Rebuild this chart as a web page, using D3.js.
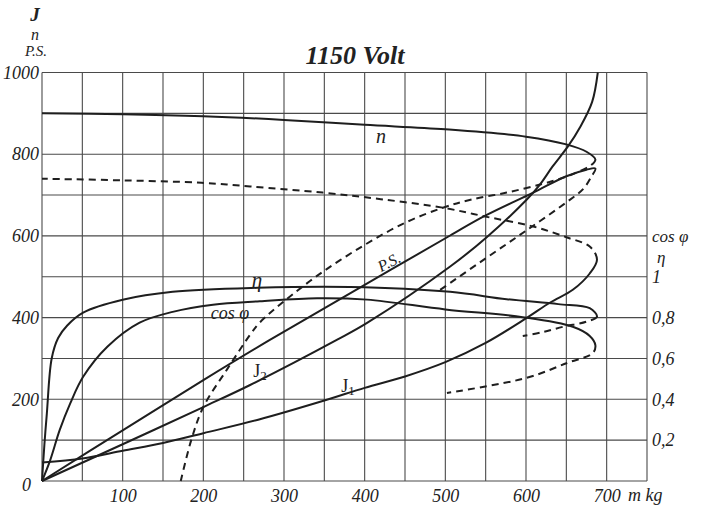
<!DOCTYPE html>
<html><head><meta charset="utf-8">
<script src="https://cdnjs.cloudflare.com/ajax/libs/d3/7.8.5/d3.min.js"></script>
<style>body{margin:0;background:#fff}svg{display:block}text{font-family:"Liberation Serif","DejaVu Serif",serif;font-style:italic;fill:#222}</style>
</head><body><svg id="c" width="707" height="515"></svg>
<script>
// ---- data (torque in m kg on x) ----
const torqueTicks = [100, 200, 300, 400, 500, 600, 700];
const leftTicks = [0, 200, 400, 600, 800, 1000];
const rightTicks = [0.2, 0.4, 0.6, 0.8, 1];

const nSolid = [[0,900],[100,898],[200,893],[300,884],[400,872],[500,861],[600,843],[650,824],[675,806],[686,787]];
const nDashed = [[686,787],[680,772],[668,760],[650,745],[620,727],[576,706],[530,688],[497,669],[450,632],[400,578],[348,512],[300,440],[270,388],[258,358],[230,275],[200,181],[185,100],[172,0]];

const psSolid = [[0,0],[100,124],[200,247],[283,346],[400,480],[506,601],[550,650],[609,706],[650,746],[675,762],[686,765]];
const psDashed = [[686,765],[681,745],[671,715],[650,682],[601,614],[550,545],[493,467]];

const j1Solid = [[0,45],[50,55],[100,74],[150,93],[200,117],[268,150],[350,197],[400,228],[450,256],[500,291],[550,338],[600,398],[630,437],[658,468],[679,508],[688,542]];
const j1Dashed = [[688,542],[679,574],[651,596],[609,623],[553,646],[497,669],[420,690],[348,706],[258,721],[198,730],[99,736],[0,740]];

const j2Solid = [[0,0],[100,90],[200,181],[258,235],[366,346],[403,387],[506,525],[552,598],[601,689],[617,725],[633,770],[652,819],[667,866],[682,928],[689,1000]];

const etaSolid = [[0,0],[3,0.18],[6,0.33],[12,0.6],[20,0.7],[31,0.76],[51,0.824],[100,0.887],[162,0.926],[267,0.946],[382,0.95],[506,0.926],[576,0.89],[640,0.866],[679,0.846],[688,0.805]];
const etaDashed = [[688,0.805],[675,0.78],[646,0.755],[620,0.728],[596,0.71]];

const cosSolid = [[0,0],[10,0.1],[22,0.25],[35,0.38],[51,0.51],[81,0.657],[121,0.775],[162,0.828],[212,0.863],[270,0.88],[341,0.895],[403,0.888],[500,0.84],[596,0.802],[658,0.755],[679,0.71],[686,0.665]];
const cosDashed = [[686,0.665],[683,0.627],[651,0.578],[601,0.505],[502,0.431]];

// ---- scales ----
const svg = d3.select("#c");
const x = d3.scaleLinear().domain([0, 750]).range([42, 647]);
const y = d3.scaleLinear().domain([0, 1000]).range([481, 72.5]);
const y2 = d3.scaleLinear().domain([0, 2]).range([481, 72.5]);

// grid
const grid = svg.append("g").attr("stroke", "#4a4a4a").attr("stroke-width", 1.1).attr("fill", "none");
d3.range(0, 751, 50).forEach(v => grid.append("line").attr("x1", x(v)).attr("x2", x(v)).attr("y1", y(0)).attr("y2", y(1000)));
d3.range(0, 1001, 100).forEach(v => grid.append("line").attr("x1", x(0)).attr("x2", x(750)).attr("y1", y(v)).attr("y2", y(v)));

// axes
const axL = svg.append("g").attr("transform", `translate(${x(0)},0)`)
  .call(d3.axisLeft(y).tickValues(leftTicks).tickSize(0).tickPadding(3).tickFormat(d => String(d)));
const axB = svg.append("g").attr("transform", `translate(0,${y(0)})`)
  .call(d3.axisBottom(x).tickValues(torqueTicks).tickSize(0).tickPadding(8).tickFormat(d => String(d)));
const axR = svg.append("g").attr("transform", `translate(${x(750)},0)`)
  .call(d3.axisRight(y2).tickValues(rightTicks).tickSize(0).tickPadding(5)
    .tickFormat(d => d === 1 ? "1" : String(d).replace(".", ",")));
[axL, axB, axR].forEach(a => {
  a.select(".domain").remove();
  a.selectAll("text").style("font-family", '"Liberation Serif",serif').style("font-style", "italic")
    .style("font-size", "18px").attr("fill", "#222");
});
axL.selectAll(".tick").filter(d => d === 0).select("text").attr("dx", -8).attr("dy", "0.5em");

// curves
const g = svg.append("g").attr("fill", "none").attr("stroke", "#1e1e1e").attr("stroke-linejoin", "round");
function drawSeries(solid, dashed, ys) {
  const pts = dashed ? solid.concat(dashed.slice(1)) : solid;
  const line = d3.line().x(d => x(d[0])).y(d => ys(d[1])).curve(d3.curveCatmullRom.alpha(0.5));
  const p = g.append("path").attr("d", line(pts)).attr("stroke-width", 2);
  if (dashed) {
    const node = p.node(), total = node.getTotalLength();
    const tip = solid[solid.length - 1], tx = x(tip[0]), ty = ys(tip[1]);
    let best = 0, bd = Infinity;
    for (let l = 0; l <= total; l += 0.5) {
      const q = node.getPointAtLength(l);
      const d = (q.x - tx) ** 2 + (q.y - ty) ** 2;
      if (d < bd) { bd = d; best = l; }
    }
    const arr = [best, 0];
    let rem = total - best;
    while (rem > 0) { arr.push(7, 5); rem -= 12; }
    p.attr("stroke-dasharray", arr.join(" "));
  }
}
drawSeries(nSolid, nDashed, y);
drawSeries(psSolid, psDashed, y);
drawSeries(j1Solid, j1Dashed, y);
drawSeries(j2Solid, null, y);
drawSeries(etaSolid, etaDashed, y2);
drawSeries(cosSolid, cosDashed, y2);

// texts
function t(s, px, py, size, opts = {}) {
  const e = svg.append("text").attr("x", px).attr("y", py).attr("text-anchor", opts.anchor || "middle")
    .attr("dominant-baseline", "central").style("font-size", size + "px").text(s);
  if (opts.bold) e.style("font-weight", "bold");
  if (opts.rotate) e.attr("transform", `rotate(${opts.rotate},${px},${py})`);
  if (opts.upright) e.style("font-style", "normal");
  return e;
}
t("1150 Volt", 355, 55, 26, { bold: true });
t("J", 35, 14, 19, { bold: true });
t("n", 35, 34, 16);
t("P.S.", 36, 51, 15);
t("m kg", 628, 495, 18, { anchor: "start" });
t("cos φ", 652, 236, 17, { anchor: "start" });
t("η", 657, 257, 17, { anchor: "start" });
t("n", 381, 136, 20);
t("η", 257, 280, 21);
t("cos φ", 230, 313, 18);
t("P.S.", 389, 262, 16, { rotate: -27 });
const j2 = t("J", 260, 371, 18, { upright: true }); j2.append("tspan").attr("dy", 4).style("font-size", "13px").text("2");
const j1 = t("J", 348, 386, 18, { upright: true }); j1.append("tspan").attr("dy", 4).style("font-size", "13px").text("1");
</script></body></html>
